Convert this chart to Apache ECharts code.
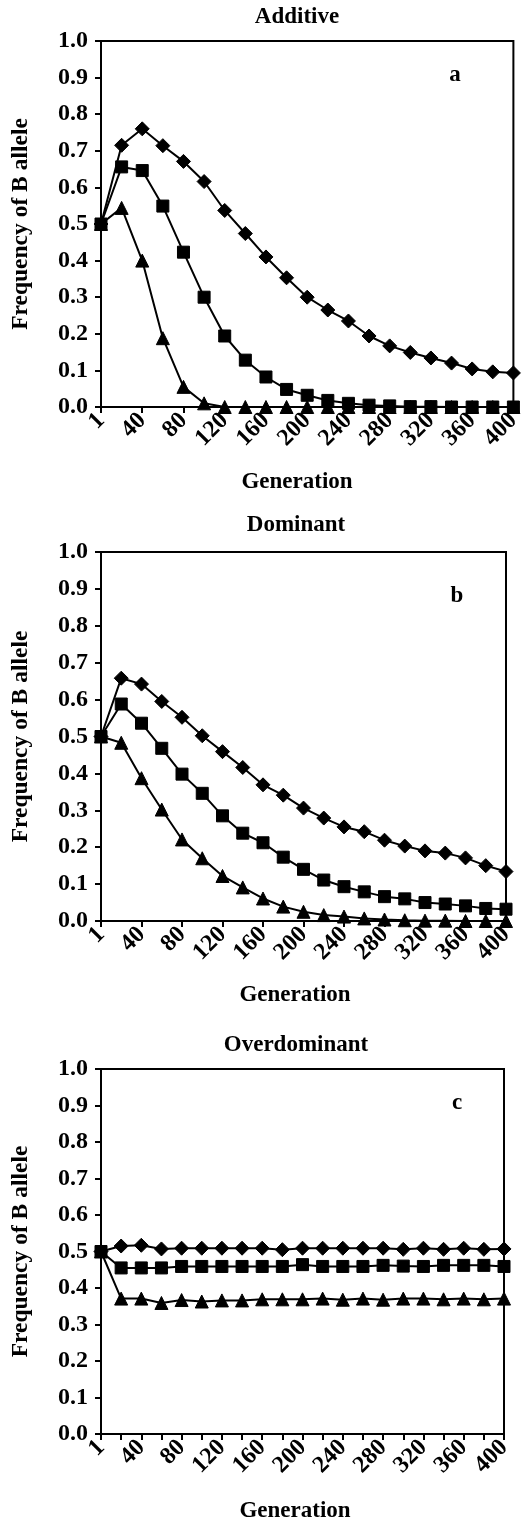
<!DOCTYPE html>
<html>
<head>
<meta charset="utf-8">
<script src="https://cdn.jsdelivr.net/npm/echarts@6/dist/echarts.min.js"></script>
<style>
html,body{margin:0;padding:0;background:#fff;}
#chart{width:524px;height:1524px;}
</style>
</head>
<body>
<div id="chart"></div>
<script>
const generations = ['1','20','40','60','80','100','120','140','160','180','200','220','240','260','280','300','320','340','360','380','400'];
const yTicks = [0,0.1,0.2,0.3,0.4,0.5,0.6,0.7,0.8,0.9,1.0];

const panelTitles = ['Additive','Dominant','Overdominant'];
const panelLetters = ['a','b','c'];
const xAxisTitle = 'Generation';
const yAxisTitle = 'Frequency of B allele';

const additiveDiamond = [0.5,0.715,0.76,0.714,0.671,0.616,0.537,0.474,0.41,0.353,0.30,0.265,0.235,0.194,0.167,0.149,0.134,0.12,0.104,0.096,0.093];
const additiveSquare = [0.5,0.656,0.646,0.549,0.423,0.30,0.194,0.128,0.082,0.048,0.032,0.018,0.01,0.005,0.003,0.001,0.001,0,0,0,0];
const additiveTriangle = [0.5,0.544,0.40,0.188,0.055,0.01,0,0,0,0,0,0,0,0,0,0,0,0,0,0,0];

const dominantDiamond = [0.5,0.658,0.642,0.595,0.552,0.502,0.459,0.416,0.369,0.341,0.306,0.279,0.255,0.242,0.219,0.203,0.19,0.184,0.171,0.15,0.134];
const dominantSquare = [0.5,0.588,0.536,0.468,0.398,0.346,0.285,0.238,0.212,0.173,0.14,0.111,0.093,0.079,0.066,0.06,0.05,0.046,0.041,0.034,0.032];
const dominantTriangle = [0.5,0.483,0.387,0.302,0.221,0.17,0.122,0.091,0.061,0.039,0.025,0.016,0.012,0.007,0.004,0.002,0.001,0.001,0,0,0];

const overDiamond = [0.5,0.515,0.517,0.507,0.509,0.509,0.509,0.509,0.509,0.505,0.509,0.509,0.509,0.509,0.509,0.506,0.509,0.506,0.509,0.506,0.507];
const overSquare = [0.5,0.455,0.455,0.455,0.459,0.459,0.459,0.459,0.459,0.459,0.464,0.459,0.459,0.459,0.462,0.46,0.459,0.462,0.462,0.462,0.459];
const overTriangle = [0.5,0.371,0.371,0.359,0.367,0.363,0.366,0.366,0.369,0.369,0.369,0.371,0.368,0.371,0.368,0.371,0.371,0.369,0.371,0.369,0.371];

const panelData = [
  [additiveDiamond, additiveSquare, additiveTriangle],
  [dominantDiamond, dominantSquare, dominantTriangle],
  [overDiamond, overSquare, overTriangle]
];

const FONT_FAMILY = '"Liberation Serif", "Times New Roman", serif';
const FS = 23;
const TICK_FS = 24;

const grids = [
  {left:101, top:41, width:414, height:366},
  {left:101, top:552, width:405, height:369},
  {left:101, top:1069, width:403, height:365}
];
const tickIntervals = [1,1,0];
const titlePos = [[297,17],[296,525],[296,1045]];
const letterPos = [[455,75],[457,596],[457,1103]];
const genPos = [[297,482],[295,995],[295,1511]];

const symbols = ['diamond','rect','triangle'];
const symbolSizes = [14,12,13];

const option = {
  animation:false,
  backgroundColor:'#fff',
  grid: grids.map(g => Object.assign({show:true, borderColor:'#000', borderWidth:2, backgroundColor:'transparent'}, g)),
  xAxis: grids.map((g,i) => ({
    type:'category',
    gridIndex:i,
    data:generations,
    boundaryGap:false,
    axisLine:{show:true, lineStyle:{color:'#000', width:2}},
    axisTick:{show:true, interval:tickIntervals[i], length:6, lineStyle:{color:'#000', width:2}},
    axisLabel:{interval:1, rotate:45, margin:10, color:'#000', fontFamily:FONT_FAMILY, fontWeight:'bold', fontSize:TICK_FS},
    splitLine:{show:false}
  })),
  yAxis: grids.map((g,i) => ({
    type:'value',
    gridIndex:i,
    min:yTicks[0], max:yTicks[yTicks.length-1], interval:0.1,
    name:yAxisTitle,
    nameLocation:'middle',
    nameGap:68,
    nameTextStyle:{color:'#000', fontFamily:FONT_FAMILY, fontWeight:'bold', fontSize:23.5},
    axisLine:{show:true, lineStyle:{color:'#000', width:2}},
    axisTick:{show:true, length:6, lineStyle:{color:'#000', width:2}},
    axisLabel:{margin:13, color:'#000', fontFamily:FONT_FAMILY, fontWeight:'bold', fontSize:TICK_FS, formatter:v => v.toFixed(1)},
    splitLine:{show:false}
  })),
  graphic: [].concat(
    panelTitles.map((t,i) => ({type:'text', x:titlePos[i][0], y:titlePos[i][1], style:{text:t, textAlign:'center', textVerticalAlign:'middle', fill:'#000', font:'bold '+FS+'px '+FONT_FAMILY}})),
    panelLetters.map((t,i) => ({type:'text', x:letterPos[i][0], y:letterPos[i][1], style:{text:t, textAlign:'center', textVerticalAlign:'middle', fill:'#000', font:'bold '+FS+'px '+FONT_FAMILY}})),
    genPos.map((p,i) => ({type:'text', x:p[0], y:p[1], style:{text:xAxisTitle, textAlign:'center', textVerticalAlign:'middle', fill:'#000', font:'bold '+FS+'px '+FONT_FAMILY}}))
  ),
  series: []
};

panelData.forEach((sets, gi) => {
  sets.forEach((vals, si) => {
    option.series.push({
      type:'line',
      xAxisIndex:gi, yAxisIndex:gi,
      data:vals,
      symbol:symbols[si],
      symbolSize:symbolSizes[si],
      showAllSymbol:true,
      lineStyle:{color:'#000', width:2},
      itemStyle:{color:'#000', borderColor:'#000'},
      emphasis:{disabled:true},
      z:3+si
    });
  });
});

const chart = echarts.init(document.getElementById('chart'), null, {renderer:'canvas'});
chart.setOption(option);
</script>
</body>
</html>
